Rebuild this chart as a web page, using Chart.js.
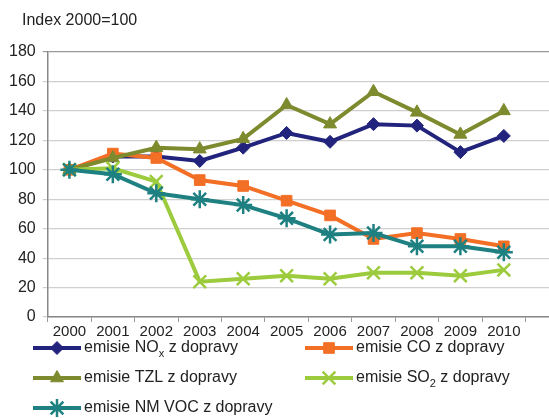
<!DOCTYPE html>
<html>
<head>
<meta charset="utf-8">
<script src="https://cdn.jsdelivr.net/npm/chart.js@4/dist/chart.umd.min.js"></script>
<style>
  html, body { margin: 0; padding: 0; background: #fff; }
</style>
</head>
<body>
<canvas id="emisChart" width="549" height="418"></canvas>
<script>
// data (index, 2000 = 100)
const years = [2000, 2001, 2002, 2003, 2004, 2005, 2006, 2007, 2008, 2009, 2010];
const noxValues   = [100, 109, 109, 106, 115, 125, 119, 131, 130, 112, 123];
const coValues    = [100, 111, 108, 93, 89, 79, 69, 53, 57, 53, 48];
const tzlValues   = [100, 108, 115, 114, 121, 144, 131, 153, 139, 124, 140];
const so2Values   = [100, 101, 92, 24, 26, 28, 26, 30, 30, 28, 32];
const nmvocValues = [100, 97, 84, 80, 76, 67, 56, 57, 48, 48, 44];
const yTicks = [0, 20, 40, 60, 80, 100, 120, 140, 160, 180];
const axisTitle = 'Index 2000=100';
// "_" marks a subscript character
const seriesLabels = [
    'emisie NO_x z dopravy',
    'emisie CO z dopravy',
    'emisie TZL z dopravy',
    'emisie SO_2 z dopravy',
    'emisie NM VOC z dopravy'
];

const FONT = '"Liberation Sans", Arial, sans-serif';

function series(label, values, color, style, radius, bw, order) {
    return {
        label: label,
        data: years.map((y, i) => ({ x: y, y: values[i] })),
        borderColor: color,
        backgroundColor: color,
        borderWidth: 4,
        pointStyle: style,
        pointRadius: radius,
        pointBackgroundColor: color,
        pointBorderColor: color,
        pointBorderWidth: bw,
        tension: 0,
        order: order
    };
}

function drawLabel(ctx, text, x, y) {
    const parts = text.split(/_(.)/);
    let cx = x;
    parts.forEach((p, i) => {
        if (i % 2 === 1) {
            ctx.font = '11px ' + FONT;
            ctx.fillText(p, cx, y + 6);
        } else {
            ctx.font = '16px ' + FONT;
            ctx.fillText(p, cx, y);
        }
        cx += ctx.measureText(p).width;
    });
}

const titleAndLegend = {
    id: 'titleAndLegend',
    afterDraw(chart) {
        const ctx = chart.ctx;
        ctx.save();
        ctx.textBaseline = 'middle';
        ctx.fillStyle = '#222';
        ctx.font = '16px ' + FONT;
        ctx.fillText(axisTitle, 22, 21);

        chart.data.datasets.forEach((ds, i) => {
            const col = i % 2;
            const row = Math.floor(i / 2);
            const x0 = col ? 305 : 33;
            const y = 348 + row * 30;
            ctx.strokeStyle = ds.borderColor;
            ctx.lineWidth = 4;
            ctx.beginPath();
            ctx.moveTo(x0, y);
            ctx.lineTo(x0 + 48, y);
            ctx.stroke();
            ctx.fillStyle = ds.pointBackgroundColor;
            ctx.lineWidth = ds.pointBorderWidth;
            Chart.helpers.drawPoint(ctx, {
                pointStyle: ds.pointStyle,
                radius: ds.pointRadius,
                borderWidth: ds.pointBorderWidth,
                rotation: 0
            }, x0 + 24, y);
            ctx.fillStyle = '#222';
            drawLabel(ctx, ds.label, x0 + 51, y);
        });
        ctx.restore();
    }
};

new Chart(document.getElementById('emisChart'), {
    type: 'line',
    data: {
        datasets: [
            series(seriesLabels[0], noxValues, '#22237c', 'rectRot', 6.5, 1, 5),
            series(seriesLabels[1], coValues, '#f36f26', 'rect', 7.5, 1, 4),
            series(seriesLabels[2], tzlValues, '#7e8a2e', 'triangle', 7.5, 1, 3),
            series(seriesLabels[3], so2Values, '#9ccb3d', 'crossRot', 9, 2.5, 2),
            series(seriesLabels[4], nmvocValues, '#1e8080', 'star', 9, 2.5, 1)
        ]
    },
    options: {
        responsive: false,
        devicePixelRatio: 1,
        animation: false,
        layout: {
            autoPadding: false,
            padding: { top: 52, left: 2, right: 0, bottom: 76 }
        },
        plugins: {
            legend: { display: false },
            tooltip: { enabled: false }
        },
        scales: {
            x: {
                type: 'linear',
                min: 1999.5,
                max: 2011.04,
                afterBuildTicks: function(scale) {
                    scale.ticks = years.map(v => ({ value: v }));
                },
                ticks: {
                    autoSkip: false,
                    maxRotation: 0,
                    padding: 1,
                    color: '#222',
                    font: { size: 15, family: FONT },
                    callback: function(value) {
                        return String(value);
                    }
                },
                grid: {
                    offset: true,
                    drawOnChartArea: false,
                    tickLength: 5,
                    color: '#999'
                },
                border: { color: '#888', width: 1.5 }
            },
            y: {
                min: 0,
                max: 180,
                afterBuildTicks: function(scale) {
                    scale.ticks = yTicks.map(v => ({ value: v }));
                },
                ticks: {
                    padding: 7,
                    color: '#222',
                    font: { size: 16, family: FONT }
                },
                grid: {
                    tickLength: 5,
                    color: function(c) {
                        return c.tick && c.tick.value === 180 ? '#999' : '#cfcfcf';
                    },
                    lineWidth: 1.2
                },
                border: { color: '#888', width: 1.5 }
            }
        }
    },
    plugins: [titleAndLegend]
});
</script>
</body>
</html>
